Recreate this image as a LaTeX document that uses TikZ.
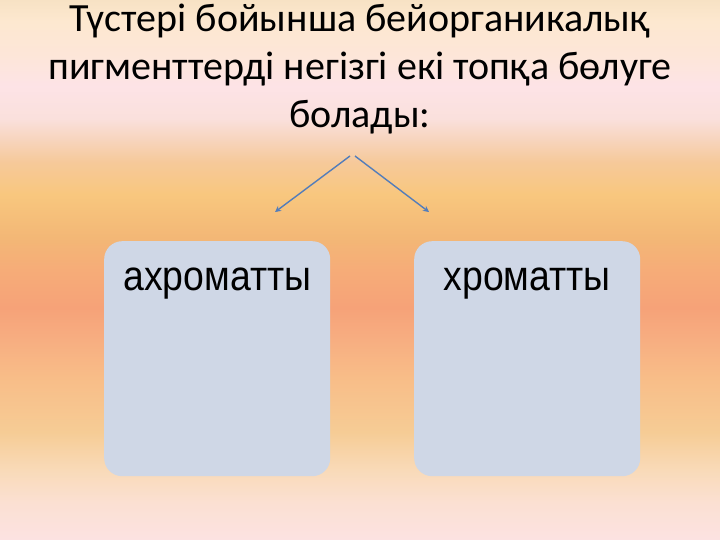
\documentclass[tikz,border=0pt]{standalone}
\usepackage{fontspec}
\setmainfont{Carlito}
\newfontfamily\boxfont[FakeStretch=0.89]{Liberation Sans}
\usetikzlibrary{arrows.meta}
\definecolor{arrowblue}{HTML}{537DBA}
\definecolor{boxfill}{HTML}{CFD7E6}
\definecolor{bga}{HTML}{FCE2E2}
\definecolor{bgb}{HTML}{FBE0D2}
\definecolor{bgc}{HTML}{F9DAB8}
\definecolor{bgd}{HTML}{F6CC95}
\definecolor{bge}{HTML}{F8BD88}
\definecolor{bgf}{HTML}{F7AC80}
\definecolor{bgg}{HTML}{F6A278}
\definecolor{bgh}{HTML}{F6AC78}
\definecolor{bgi}{HTML}{F3B776}
\definecolor{bgj}{HTML}{F8C77E}
\definecolor{bgk}{HTML}{F6C99A}
\definecolor{bgl}{HTML}{F7D4BC}
\definecolor{bgm}{HTML}{FAE0DC}
\definecolor{bgn}{HTML}{FDE3E6}
\definecolor{bgo}{HTML}{FDE6D8}
\definecolor{bgp}{HTML}{FDE8D0}
\definecolor{bgq}{HTML}{F7E2C4}
\pgfdeclareverticalshading{bgshade}{100bp}{%
  color(0bp)=(bga);
  color(25bp)=(bga);
  color(28.5bp)=(bgb);
  color(31.5bp)=(bgc);
  color(35bp)=(bgd);
  color(40bp)=(bge);
  color(44bp)=(bgf);
  color(46.5bp)=(bgg);
  color(50bp)=(bgh);
  color(53bp)=(bgi);
  color(57bp)=(bgj);
  color(60bp)=(bgk);
  color(62bp)=(bgl);
  color(64bp)=(bgm);
  color(67bp)=(bgn);
  color(70bp)=(bgo);
  color(73bp)=(bgp);
  color(75bp)=(bgq);
  color(100bp)=(bgq)}
\tikzset{
  titletext/.style={font=\fontsize{40}{48}\selectfont, align=center, text=black, inner sep=0pt},
  boxshape/.style={rectangle, rounded corners=18pt, fill=boxfill, draw=none, minimum width=226pt, minimum height=235pt, inner sep=0pt},
  boxlabel/.style={font=\boxfont\fontsize{42}{46}\selectfont, text=black, inner sep=0pt, anchor=base},
  splitarrow/.style={draw=arrowblue, line width=1.4pt, -{Stealth[length=6pt,width=6pt]}}
}
\begin{document}
\begin{tikzpicture}[x=1pt,y=-1pt]
\useasboundingbox (0,0) rectangle (720,540);
\shade[shading=bgshade] (0,0) rectangle (720,540);
\node[titletext, anchor=north] (title) at (360,4) {Түстері бойынша бейорганикалық\\пигменттерді негізгі екі топқа бөлуге\\болады:};
\coordinate (apexL) at (350,156);
\coordinate (apexR) at (355,156);
\coordinate (endL) at (275,212);
\coordinate (endR) at (429,212);
\draw[splitarrow] (apexL) -- (endL);
\draw[splitarrow] (apexR) -- (endR);
\node[boxshape, anchor=north west] (boxL) at (104,241) {};
\node[boxshape, anchor=north west] (boxR) at (414,241) {};
\node[boxlabel] (labL) at ([yshift=-49pt]boxL.north) {ахроматты};
\node[boxlabel] (labR) at ([yshift=-49pt]boxR.north) {хроматты};
\end{tikzpicture}
\end{document}
